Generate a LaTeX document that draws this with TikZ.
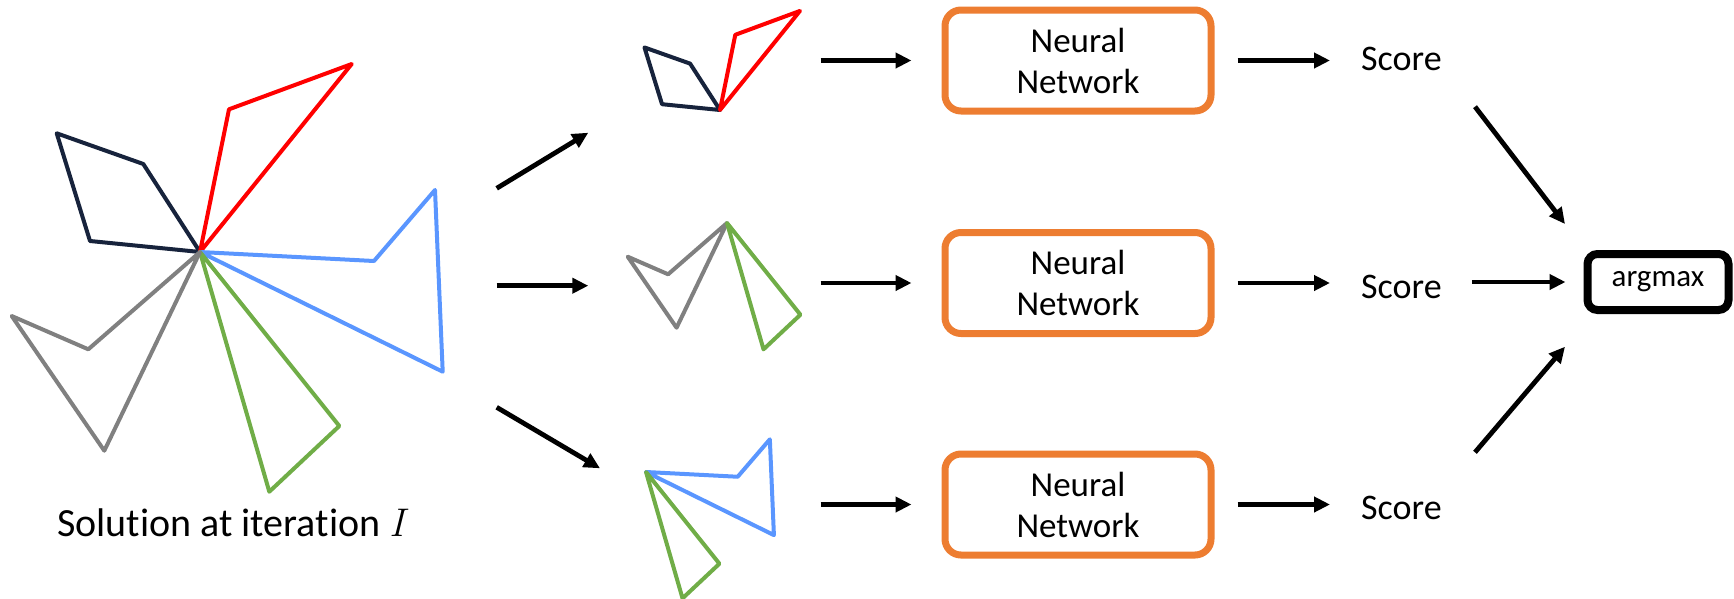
\documentclass[tikz,border=0pt]{standalone}
\usepackage{fontspec}
\setmainfont{Carlito}[Ligatures=NoCommon]
\newfontfamily\lmroman{Latin Modern Roman}
\usetikzlibrary{arrows.meta}

\definecolor{navyline}{RGB}{23,35,60}
\definecolor{redline}{RGB}{255,0,0}
\definecolor{blueline}{RGB}{90,150,255}
\definecolor{greenline}{RGB}{112,173,71}
\definecolor{grayline}{RGB}{128,128,128}
\definecolor{nnorange}{RGB}{237,125,49}

% the five polygons of a solution, drawn around their common vertex
\newcommand\navyshape{\draw[poly,navyline] (0,0) -- (-56.7,-88) -- (-143.3,-118.7) -- (-110,-11) -- cycle;}
\newcommand\redshape{\draw[poly,redline] (0,0) -- (29,-142.7) -- (151.7,-188) -- cycle;}
\newcommand\blueshape{\draw[poly,blueline] (0,0) -- (174,9) -- (235,-62) -- (242.7,119.7) -- cycle;}
\newcommand\greenshape{\draw[poly,greenline] (0,0) -- (69.3,239.7) -- (139.3,174) -- cycle;}
\newcommand\grayshape{\draw[poly,grayline] (0,0) -- (-111.7,97.3) -- (-188.3,64) -- (-95.7,198.7) -- cycle;}

\tikzset{
  poly/.style={line width=4pt, line join=round},
  arr/.style={line width=4.8pt, -{Triangle[length=16pt,width=15pt]}},
  nnbox/.style={draw=nnorange, line width=7pt, rounded corners=16pt,
    minimum width=266pt, minimum height=101pt, inner sep=0pt,
    align=center, font=\fontsize{35}{41}\selectfont},
  scorelabel/.style={anchor=base west, inner sep=0pt, font=\fontsize{36}{43}\selectfont},
  maxbox/.style={draw=black, line width=8pt, rounded corners=10pt,
    minimum width=141pt, minimum height=56pt, inner sep=0pt,
    font=\fontsize{31}{37}\selectfont}
}

\begin{document}
\begin{tikzpicture}[x=1pt,y=-1pt]
\useasboundingbox (0,0) rectangle (1734,598);

% current solution
\begin{scope}[shift={(200,252)}]
  \navyshape \redshape \blueshape \greenshape \grayshape
\end{scope}
\node[anchor=base west, inner sep=0pt, font=\fontsize{40}{48}\selectfont] (sol) at (57,536)
  {Solution at iteration {\lmroman\itshape I}};

% candidate pairs
\begin{scope}[shift={(720,110)}, scale=0.527]
  \navyshape \redshape
\end{scope}
\begin{scope}[shift={(727,223)}, scale=0.527]
  \grayshape \greenshape
\end{scope}
\begin{scope}[shift={(646,472)}, scale=0.527]
  \blueshape \greenshape
\end{scope}

% networks, scores and selection
\node[nnbox] (nn1) at (1078,60.5) {Neural\\Network};
\node[nnbox] (nn2) at (1078,283) {Neural\\Network};
\node[nnbox] (nn3) at (1078,504.5) {Neural\\Network};

\node[scorelabel] (sc1) at (1361,70.7) {Score};
\node[scorelabel] (sc2) at (1361,298.3) {Score};
\node[scorelabel] (sc3) at (1361,519.3) {Score};

\node[maxbox] (am) at (1658,282) {\raisebox{-3pt}{argmax}};

% arrow end points
\coordinate (s1a) at (496.7,188.3); \coordinate (s1b) at (588.3,132.7);
\coordinate (s2a) at (496.7,285.7); \coordinate (s2b) at (588.3,285.7);
\coordinate (s3a) at (496.7,407.3); \coordinate (s3b) at (600,468.3);
\coordinate (in1) at (820.7,60.5);
\coordinate (in2) at (820.7,283);
\coordinate (in3) at (820.7,504.5);
\coordinate (d1a) at (1475,106.7); \coordinate (d1b) at (1565,224);
\coordinate (d3a) at (1475,452.3); \coordinate (d3b) at (1565,346.7);

\draw[arr] (s1a) -- (s1b);
\draw[arr] (s2a) -- (s2b);
\draw[arr] (s3a) -- (s3b);

\draw[arr, shorten >=30pt] (in1) -- (in1 -| nn1.west);
\draw[arr, shorten >=30pt] (in2) -- (in2 -| nn2.west);
\draw[arr, shorten >=30pt] (in3) -- (in3 -| nn3.west);

\draw[arr, shorten <=23pt, shorten >=31pt] (nn1.east) -- (nn1.east -| sc1.west);
\draw[arr, shorten <=23pt, shorten >=31pt] (nn2.east) -- (nn2.east -| sc2.west);
\draw[arr, shorten <=23pt, shorten >=31pt] (nn3.east) -- (nn3.east -| sc3.west);

\draw[arr] (d1a) -- (d1b);
\draw[arr, shorten <=30pt, shorten >=18pt] (am.west -| sc2.east) -- (am.west);
\draw[arr] (d3a) -- (d3b);
\end{tikzpicture}
\end{document}
